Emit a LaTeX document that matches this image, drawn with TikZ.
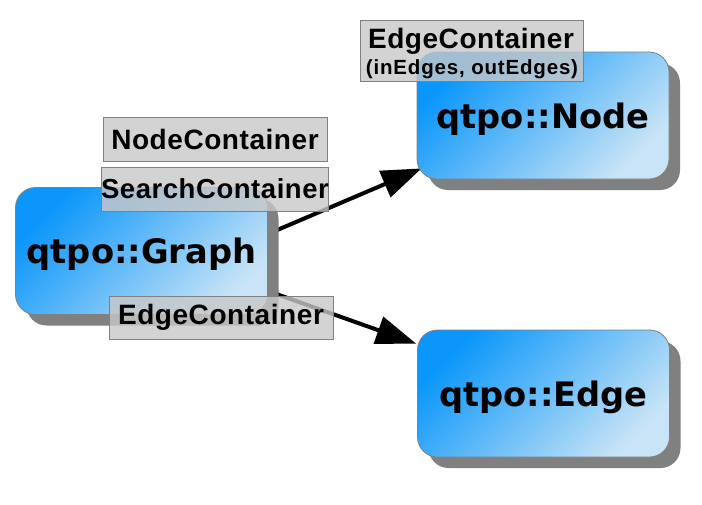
\documentclass[tikz,border=0pt]{standalone}
\usepackage{fontspec}
\setmainfont{Liberation Sans}
\newfontfamily\bigfont{DejaVu Sans}
\newfontfamily\lblfont[LetterSpace=2]{Liberation Sans}
\newfontfamily\smallfont[LetterSpace=4]{Liberation Sans}
\usetikzlibrary{shadows,arrows.meta,backgrounds}
\definecolor{bluedark}{RGB}{10,150,250}
\definecolor{bluelight}{RGB}{200,228,246}
\definecolor{shadowgray}{RGB}{128,128,128}
\definecolor{lblfill}{RGB}{200,200,200}
\definecolor{lblborder}{RGB}{128,128,128}
\begin{document}
\begin{tikzpicture}[x=1pt,y=-1pt,
  classbox/.style={rectangle, rounded corners=20pt, minimum width=252pt, minimum height=127pt,
    inner sep=0pt, draw=shadowgray, line width=0.8pt, text depth=0pt,
    top color=bluedark, bottom color=bluelight, shading angle=45,
    drop shadow={shadow xshift=11pt, shadow yshift=-11pt, fill=shadowgray, opacity=1},
    font=\bigfont\bfseries\fontsize{33.7}{40}\selectfont},
  lbl/.style={rectangle, draw=lblborder, line width=0.8pt, fill=lblfill, fill opacity=0.8,
    text opacity=1, inner sep=0pt, minimum width=224pt, minimum height=44pt,
    font=\lblfont\bfseries\fontsize{28}{32}\selectfont},
  conn/.style={line width=4pt, -{Triangle[length=40pt,width=28pt]}}
]
\useasboundingbox (0,0) rectangle (702,504);
\node[classbox] (graph) at (141.5,251) {qtpo::Graph};
\node[classbox] (qnode) at (543,115.5) {qtpo::Node};
\node[classbox] (qedge) at (543.5,393.5) {qtpo::Edge};
% connectors, under the boxes and their shadows
\begin{pgfonlayer}{background}
\draw[conn] ([yshift=17pt]graph.east) -- ([xshift=5pt,yshift=11pt]qnode.south west);
\draw[conn] ([yshift=-40pt]graph.east) -- ([xshift=-1pt,yshift=-14pt]qedge.north west);
\end{pgfonlayer}
% labels
\node[lbl] (nc) at (215,139.5) {NodeContainer};
\node[lbl] (sc) at (215,189) {\fontsize{27.5}{32}\selectfont SearchContainer};
\node[lbl, minimum height=43pt] (gec) at (221,317.5) {EdgeContainer};
\node[lbl, minimum width=223pt, minimum height=61pt] (nec) at (471.5,50.5) {};
\node[anchor=base, inner sep=0pt, font=\lblfont\bfseries\fontsize{28}{32}\selectfont] (nect) at (471,48) {EdgeContainer};
\node[anchor=base, inner sep=0pt, font=\smallfont\bfseries\fontsize{20.5}{24}\selectfont] (necs) at (472,74) {(inEdges, outEdges)};
\end{tikzpicture}
\end{document}
